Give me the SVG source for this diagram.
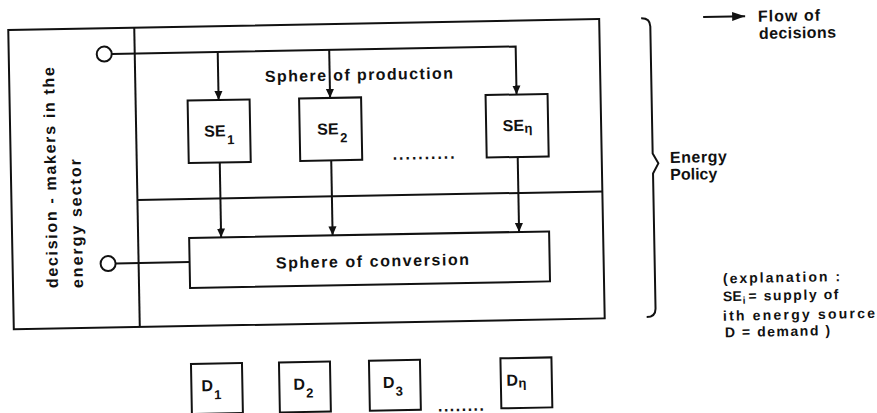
<svg xmlns="http://www.w3.org/2000/svg" width="877" height="413" viewBox="0 0 877 413">
  <defs>
    <style>
      .ln{fill:none;stroke:#111;stroke-width:2}
      .bx{fill:#fff;stroke:#111;stroke-width:2}
      .dot{fill:#fff;stroke:#111;stroke-width:2}
      text{font-family:"Liberation Sans",Arial,sans-serif;font-weight:bold;fill:#111;font-size:16px}
      .sm{font-size:14px}
      .sub{font-size:13px}
    </style>
    <marker id="ah" viewBox="0 0 10 10" refX="10" refY="5" markerWidth="9" markerHeight="10" markerUnits="userSpaceOnUse" orient="auto">
      <path d="M0,0.5 L10,5 L0,9.5 z" fill="#111"/>
    </marker>
    <marker id="ahL" viewBox="0 0 13 9" refX="13" refY="4.5" markerWidth="13" markerHeight="9" markerUnits="userSpaceOnUse" orient="auto">
      <path d="M0,0 L13,4.5 L0,9 z" fill="#111"/>
    </marker>
  </defs>

  <rect width="877" height="413" fill="#fff"/>

  <!-- the whole sheet sits at a slight tilt -->
  <g transform="rotate(-1.06 300 175)">

    <!-- energy sector frame with its two spheres -->
    <g id="sector-frame">
      <rect class="ln" x="11" y="24.6" width="591" height="299.4"/>
      <line class="ln" x1="137" y1="24.6" x2="137" y2="324"/>
      <line class="ln" x1="137" y1="197" x2="602" y2="197"/>
    </g>

    <!-- decision-makers column -->
    <g id="decision-makers">
      <text transform="translate(56,283.5) rotate(-90)" textLength="221" lengthAdjust="spacing">decision - makers in the</text>
      <text transform="translate(81,284) rotate(-90)" textLength="129" lengthAdjust="spacing">energy sector</text>
    </g>

    <g id="sphere-production">
      <text x="266.7" y="81.4" textLength="188" lengthAdjust="spacing">Sphere of production</text>
      <text x="393" y="161.5" textLength="62" lengthAdjust="spacing">..........</text>
    </g>

    <!-- connectors -->
    <g id="connectors">
      <path class="ln" d="M114,50.5 H518 V98.5" marker-end="url(#ah)"/>
      <path class="ln" d="M220,50.5 V98.5" marker-end="url(#ah)"/>
      <path class="ln" d="M331.5,50.5 V98.5" marker-end="url(#ah)"/>
      <path class="ln" d="M220,161 V236" marker-end="url(#ah)"/>
      <path class="ln" d="M331.5,161 V236" marker-end="url(#ah)"/>
      <path class="ln" d="M518,161 V236" marker-end="url(#ah)"/>
      <path class="ln" d="M114,260 H188"/>
      <circle class="dot" cx="106.5" cy="50.5" r="7.5"/>
      <circle class="dot" cx="106.5" cy="260" r="7.5"/>
    </g>

    <!-- supply of energy sources -->
    <g id="SE1">
      <rect class="bx" x="189" y="98.5" width="62" height="62.5"/>
      <text x="205" y="135">SE<tspan class="sub" dx="1.5" dy="8">1</tspan></text>
    </g>
    <g id="SE2">
      <rect class="bx" x="300.5" y="98.5" width="62" height="62.5"/>
      <text x="318" y="135">SE<tspan class="sub" dx="1.5" dy="8">2</tspan></text>
    </g>
    <g id="SEn">
      <rect class="bx" x="487" y="98.5" width="62" height="62.5"/>
      <text x="503.5" y="135">SE<tspan class="sub" dx="0.5" dy="2">η</tspan></text>
    </g>

    <g id="sphere-conversion">
      <rect class="bx" x="188" y="236" width="360" height="50"/>
      <text x="274.3" y="268" textLength="193" lengthAdjust="spacing">Sphere of conversion</text>
    </g>

    <!-- demand -->
    <g id="D1">
      <rect class="bx" x="187.5" y="362" width="51" height="50"/>
      <text x="197.5" y="389.5">D<tspan class="sub" dx="1" dy="8">1</tspan></text>
    </g>
    <g id="D2">
      <rect class="bx" x="275.5" y="362" width="51" height="50"/>
      <text x="289.5" y="389.5">D<tspan class="sub" dx="1" dy="8">2</tspan></text>
    </g>
    <g id="D3">
      <rect class="bx" x="365.5" y="362" width="51" height="50"/>
      <text x="379" y="389.5">D<tspan class="sub" dx="1" dy="8">3</tspan></text>
    </g>
    <g id="Dn">
      <rect class="bx" x="497" y="362" width="51" height="50"/>
      <text x="502.5" y="389.5">D<tspan class="sub" dx="0.5" dy="2">η</tspan></text>
    </g>
    <text x="433.6" y="414" textLength="46" lengthAdjust="spacing">........</text>

    <!-- energy policy brace -->
    <g id="energy-policy">
      <path class="ln" d="M644,24.5 Q653,24.5 653,33 V160 L658.5,170 L653,180 V315 Q653,323.5 644,323.5"/>
      <text x="670.2" y="169.8" textLength="57" lengthAdjust="spacing">Energy</text>
      <text x="670.2" y="186.8" textLength="47" lengthAdjust="spacing">Policy</text>
    </g>

    <!-- legend -->
    <g id="legend">
      <path class="ln" d="M706,24.5 H748" marker-end="url(#ahL)"/>
      <text x="760.8" y="30.2" textLength="62" lengthAdjust="spacing">Flow of</text>
      <text x="761.5" y="47.5" textLength="77" lengthAdjust="spacing">decisions</text>
    </g>

    <g id="explanation">
      <text class="sm" x="721" y="291.1" textLength="117" lengthAdjust="spacing">(explanation :</text>
      <text class="sm" x="720.7" y="309">SE<tspan font-size="10" dx="1" dy="3">i</tspan><tspan dx="3" dy="-3" textLength="90" lengthAdjust="spacing">= supply of</tspan></text>
      <text class="sm" x="720.3" y="328.5" textLength="152" lengthAdjust="spacing">ith energy source</text>
      <text class="sm" x="722" y="345" textLength="105" lengthAdjust="spacing">D = demand )</text>
    </g>
  </g>
</svg>
